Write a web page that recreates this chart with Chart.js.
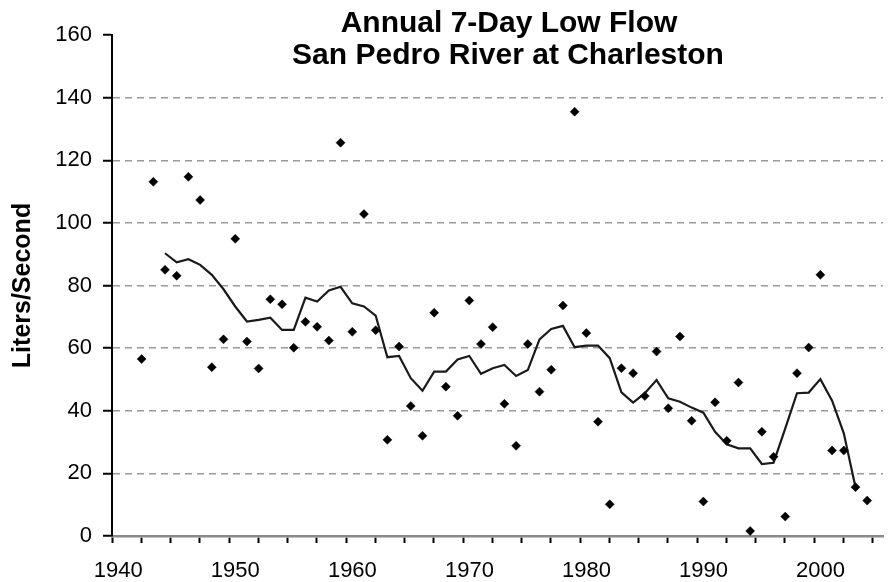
<!DOCTYPE html>
<html>
<head>
<meta charset="utf-8">
<script src="https://cdn.jsdelivr.net/npm/chart.js@4"></script>
<style>
  body { margin: 0; background: #fff; }
  #wrap { width: 888px; height: 582px; position: relative; }
</style>
</head>
<body>
<div id="wrap"><canvas id="chart"></canvas></div>
<script>
// annual 7-day low flow, one point per year
const years = [1942, 1943, 1944, 1945, 1946, 1947, 1948, 1949, 1950, 1951,
    1952, 1953, 1954, 1955, 1956, 1957, 1958, 1959, 1960, 1961,
    1962, 1963, 1964, 1965, 1966, 1967, 1968, 1969, 1970, 1971,
    1972, 1973, 1974, 1975, 1976, 1977, 1978, 1979, 1980, 1981,
    1982, 1983, 1984, 1985, 1986, 1987, 1988, 1989, 1990, 1991,
    1992, 1993, 1994, 1995, 1996, 1997, 1998, 1999, 2000, 2001,
    2002, 2003, 2004];
const lowFlow = [56.5, 113.1, 85.0, 83.1, 114.7, 107.3, 53.9, 62.8, 94.9, 62.1,
    53.5, 75.6, 74.0, 60.1, 68.4, 66.8, 62.4, 125.6, 65.2, 102.8,
    65.7, 30.7, 60.5, 41.5, 32.0, 71.3, 47.7, 38.4, 75.2, 61.3,
    66.7, 42.2, 28.8, 61.3, 46.1, 53.1, 73.6, 135.5, 64.8, 36.5,
    10.1, 53.6, 52.0, 44.7, 58.9, 40.8, 63.7, 36.8, 11.0, 42.7,
    30.4, 49.0, 1.6, 33.3, 25.3, 6.2, 52.0, 60.2, 83.4, 27.3,
    27.3, 15.6, 11.3];

// smoothed curve
const avgYears = [1944, 1945, 1946, 1947, 1948, 1949, 1950, 1951, 1952, 1953,
    1954, 1955, 1956, 1957, 1958, 1959, 1960, 1961, 1962, 1963,
    1964, 1965, 1966, 1967, 1968, 1969, 1970, 1971, 1972, 1973,
    1974, 1975, 1976, 1977, 1978, 1979, 1980, 1981, 1982, 1983,
    1984, 1985, 1986, 1987, 1988, 1989, 1990, 1991, 1992, 1993,
    1994, 1995, 1996, 1997, 1998, 1999, 2000, 2001, 2002, 2003];
const avgFlow = [90.3, 87.4, 88.4, 86.6, 83.4, 78.8, 73.3, 68.5, 69.0, 69.7,
    65.8, 65.8, 76.1, 74.9, 78.4, 79.6, 74.3, 73.3, 70.4, 57.1,
    57.5, 50.4, 46.4, 52.5, 52.5, 56.4, 57.5, 51.8, 53.6, 54.6,
    51.1, 53.0, 62.8, 66.1, 67.1, 60.3, 60.8, 60.8, 56.8, 45.9,
    42.6, 45.6, 49.8, 44.0, 42.9, 41.0, 39.4, 33.3, 29.3, 28.0,
    28.0, 23.0, 23.4, 34.4, 45.6, 45.8, 50.1, 43.2, 32.8, 15.6];

const decadeLabels = ['1940', '1950', '1960', '1970', '1980', '1990', '2000'];
const titleLines = ['Annual 7-Day Low Flow', 'San Pedro River at Charleston'];

const xMin = 1939.47;
const xMax = 2005.35;
const FONT = '"Liberation Sans", Arial, sans-serif';

const titlePlugin = {
    id: 'fixedTitle',
    afterDraw(chart) {
        const ctx = chart.ctx;
        ctx.save();
        ctx.fillStyle = '#000';
        ctx.font = 'bold 30px ' + FONT;
        ctx.textAlign = 'center';
        ctx.textBaseline = 'alphabetic';
        ctx.fillText(titleLines[0], 509, 32);
        ctx.fillText(titleLines[1], 508, 64);
        ctx.restore();
    }
};

function buildChart() {
    let chart = document.getElementById('chart');
    new Chart(chart.getContext('2d'), {
        type: 'scatter',
        data: {
            datasets: [{
                label: 'Moving average',
                data: avgYears.map((y, i) => ({x: y, y: avgFlow[i]})),
                showLine: true,
                borderColor: '#1a1a1a',
                borderWidth: 2.2,
                pointRadius: 0,
                tension: 0,
                order: 2
            }, {
                label: 'Low flow',
                data: years.map((y, i) => ({x: y, y: lowFlow[i]})),
                showLine: false,
                pointStyle: 'rectRot',
                pointRadius: 4.5,
                backgroundColor: '#000',
                borderColor: '#000',
                borderWidth: 0.5,
                order: 1
            }]
        },
        options: {
            responsive: true,
            maintainAspectRatio: false,
            animation: false,
            layout: {padding: {top: 35, right: 0, left: 0, bottom: 0}},
            plugins: {
                legend: {display: false},
                tooltip: {enabled: false}
            },
            scales: {
                x: {
                    type: 'linear',
                    min: xMin,
                    max: xMax,
                    afterBuildTicks: scale => {
                        let t = [];
                        for (let v = xMin; v <= xMax; v += 2.5) t.push({value: v});
                        scale.ticks = t;
                    },
                    afterFit: scale => { scale.height = 46; },
                    ticks: {
                        autoSkip: false,
                        maxRotation: 0,
                        padding: 15,
                        labelOffset: 6.3,
                        color: '#000',
                        font: {family: FONT, size: 22},
                        callback: (v, i) => i % 4 === 0 ? (decadeLabels[i / 4] || '') : ''
                    },
                    grid: {
                        drawOnChartArea: false,
                        drawTicks: true,
                        tickLength: 7,
                        tickColor: '#000',
                        tickWidth: 2
                    },
                    border: {color: '#8a8a8a', width: 2.5}
                },
                y: {
                    min: 0,
                    max: 160,
                    afterFit: scale => { scale.width = 112; },
                    ticks: {
                        stepSize: 20,
                        padding: 11,
                        color: '#000',
                        font: {family: FONT, size: 22}
                    },
                    title: {
                        display: true,
                        text: 'Liters/Second',
                        color: '#000',
                        font: {family: FONT, size: 25, weight: 'bold'},
                        padding: {top: 8, bottom: 0}
                    },
                    grid: {
                        color: ctx => (ctx.tick && (ctx.tick.value === 0 || ctx.tick.value === 160)) ? 'rgba(0,0,0,0)' : '#9a9a9a',
                        lineWidth: 1.5,
                        tickLength: 9,
                        tickColor: '#000',
                        tickWidth: 2
                    },
                    border: {color: '#000', width: 2, dash: [7, 5]}
                }
            }
        },
        plugins: [titlePlugin]
    });
}

buildChart();
</script>
</body>
</html>
